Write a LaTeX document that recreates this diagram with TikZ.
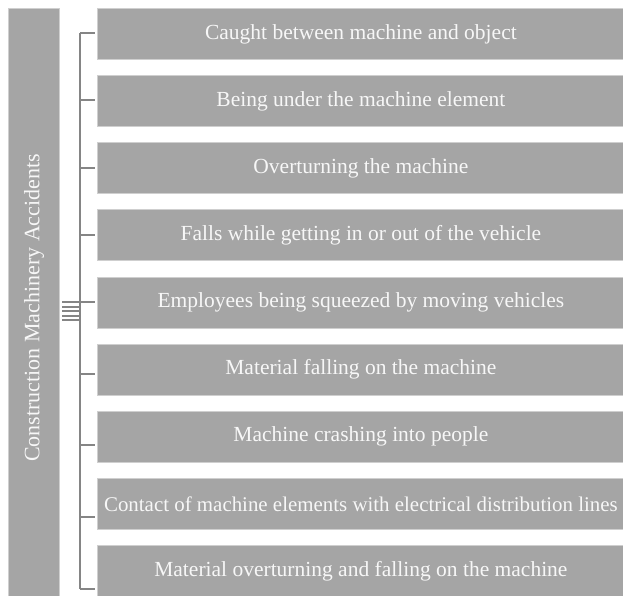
\documentclass[tikz,border=0pt]{standalone}
\usepackage{fontspec}
\setmainfont{Liberation Serif}
\definecolor{boxgray}{HTML}{A5A5A5}
\definecolor{edgegray}{HTML}{CFCFCF}
\definecolor{linegray}{HTML}{858585}
\definecolor{txt}{HTML}{F7F7F7}
\begin{document}
\begin{tikzpicture}[x=1pt,y=-1pt,
  itembox/.style={fill=boxgray,draw=edgegray,line width=0.8pt,minimum width=527pt,minimum height=51pt,inner sep=0pt,anchor=north west,text=txt,font=\fontsize{21.5}{24}\selectfont},
  tick/.style={draw=linegray,line width=2.2pt},
  spine/.style={draw=linegray,line width=2.8pt},
  menu/.style={draw=linegray,line width=2pt}]
\useasboundingbox (0,0) rectangle (623,595);
\node[fill=boxgray,draw=edgegray,line width=0.8pt,minimum width=51pt,minimum height=590pt,inner sep=0pt,anchor=north west] (root) at (8,8) {};
\node[rotate=90,text=txt,font=\fontsize{22}{24}\selectfont] (roottext) at (34,308) {Construction Machinery Accidents};
\foreach \t [count=\i] in {Caught between machine and object,Being under the machine element,Overturning the machine,Falls while getting in or out of the vehicle,Employees being squeezed by moving vehicles,Material falling on the machine,Machine crashing into people,{\fontsize{20.9}{24}\selectfont Contact of machine elements with electrical distribution lines},Material overturning and falling on the machine}{
  \node[itembox] (b\i) at (97,{8+(\i-1)*67.125}) {\t};
}
\foreach \y [count=\i] in {33,100,168,235,302,374,445,517,589}{
  \coordinate (s\i) at (80,\y);
  \coordinate (e\i) at (95,\y);
  \draw[tick] (s\i) -- (e\i);
}
\draw[spine] (s1) -- (s9);
\foreach \y in {302,306.5,311,315.5,320}{
  \draw[menu] (62,\y) -- (79,\y);
}
\end{tikzpicture}
\end{document}
